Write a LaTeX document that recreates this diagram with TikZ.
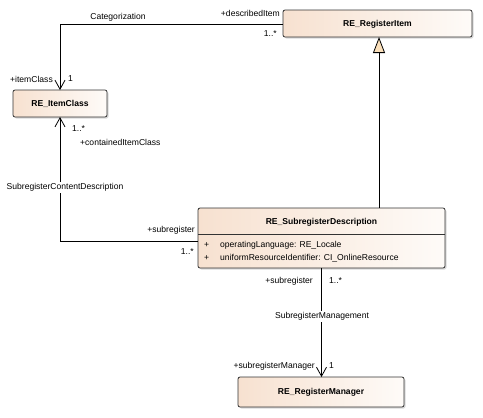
\documentclass[tikz,border=0pt]{standalone}
\usepackage{fontspec}
\setmainfont{Liberation Sans}
\usetikzlibrary{arrows.meta,shadows}
\definecolor{boxleft}{HTML}{F7E1D0}
\definecolor{boxright}{HTML}{FEFBF8}
\definecolor{trifill}{HTML}{FADFBA}
\begin{document}
\begin{tikzpicture}[x=1bp,y=-1bp,
  every node/.style={font=\fontsize{8.6}{10}\selectfont, inner sep=0pt},
  classbox/.style={draw=black!80, line width=0.8bp, rounded corners=2bp, left color=boxleft, right color=boxright,
     drop shadow={shadow xshift=1.5bp, shadow yshift=-1.5bp, fill=black!25, opacity=0.6}},
  cname/.style={font=\fontsize{8.6}{10}\selectfont\bfseries},
  conn/.style={line width=0.8bp, draw=black},
  openarr/.style={-{Straight Barb[length=9bp,width=10bp,line width=0.8bp]}},
  gen/.style={-{Triangle[open,length=16bp,width=12bp,fill=trifill]}},
  lbl/.style={font=\fontsize{8.6}{10}\selectfont},
  onlbl/.style={lbl, fill=white, inner xsep=1bp, inner ysep=1.5bp}]
\useasboundingbox (0,0) rectangle (483,417);
% boxes
\draw[classbox] (283,10) rectangle (472,37);
\node[cname] (ri) at (377.5,24) {RE\_RegisterItem};
\coordinate (riB) at (379,37);
\coordinate (riL) at (283,24);

\draw[classbox] (13,90) rectangle (107,117);
\node[cname] (ic) at (60,104) {RE\_ItemClass};
\coordinate (icT) at (60,90);
\coordinate (icB) at (60,117);

\draw[classbox] (198,208) rectangle (445,268);
\draw[line width=0.8bp, black!80] (198,234) -- (445,234);
\node[cname] (sd) at (321.5,222) {RE\_SubregisterDescription};
\node[lbl, anchor=west] (a1p) at (204,245.5) {+};
\node[lbl, anchor=west] (a1) at (220,245.5) {operatingLanguage: RE\_Locale};
\node[lbl, anchor=west] (a2p) at (204,258) {+};
\node[lbl, anchor=west] (a2) at (220,258) {uniformResourceIdentifier: CI\_OnlineResource};
\coordinate (sdT) at (379,208);
\coordinate (sdL) at (198,241);
\coordinate (sdB) at (321.5,268);

\draw[classbox] (238,377) rectangle (404,407);
\node[cname] (rm) at (321,392) {RE\_RegisterManager};
\coordinate (rmT) at (321.5,377);

% connectors
\coordinate (c1) at (60,24);
\draw[conn, openarr] (riL) -- (c1) -- (icT);
\node[lbl] (catl) at (118,17) {Categorization};
\node[lbl, anchor=east] (dil) at (280,13) {+describedItem};
\node[lbl, anchor=east] (dim) at (277,34) {1..*};
\node[lbl, anchor=east] (icl) at (53,79) {+itemClass};
\node[lbl, anchor=west] (icm) at (68,79) {1};

\draw[conn, gen] (sdT) -- (riB);

\coordinate (c2) at (60,241);
\draw[conn, openarr] (sdL) -- (c2) -- (icB);
\node[onlbl] (scd) at (65,187) {SubregisterContentDescription};
\node[lbl, anchor=west] (cim) at (72,129) {1..*};
\node[lbl, anchor=west] (cil) at (80,142) {+containedItemClass};
\node[lbl, anchor=east] (srl) at (195,230) {+subregister};
\node[lbl, anchor=east] (srm) at (194,252) {1..*};

\draw[conn, openarr] (sdB) -- (rmT);
\node[onlbl] (sml) at (322,316) {SubregisterManagement};
\node[lbl, anchor=east] (sr2l) at (313,281) {+subregister};
\node[lbl, anchor=west] (sr2m) at (329,281) {1..*};
\node[lbl, anchor=east] (rml) at (315,366) {+subregisterManager};
\node[lbl, anchor=west] (rmm) at (329,366) {1};
\end{tikzpicture}
\end{document}
